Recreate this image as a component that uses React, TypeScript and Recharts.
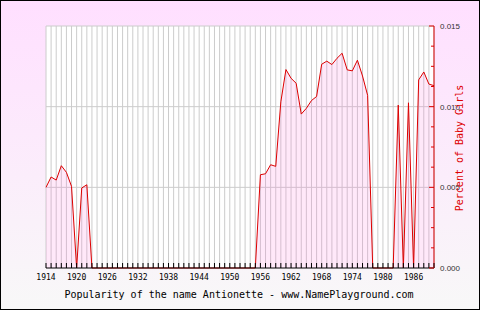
import { AreaChart, Area, XAxis, YAxis, CartesianGrid } from "recharts";

const firstYear = 1914;
const lastYear = 1990;

// share of baby girls per year, starting at 1914
const values = [
  0.005, 0.00564, 0.00545, 0.00634, 0.00593, 0.00506, 0, 0.00496, 0.00516,
  0, 0, 0, 0, 0, 0, 0, 0, 0, 0, 0, 0, 0, 0, 0, 0, 0, 0, 0, 0, 0, 0, 0, 0, 0, 0, 0, 0, 0, 0, 0, 0, 0,
  0.00578, 0.00584, 0.0064, 0.0063, 0.0103, 0.0123, 0.01176, 0.01145, 0.00954, 0.0099, 0.01038,
  0.01063, 0.01263, 0.01282, 0.01261, 0.013, 0.01331, 0.01228, 0.01222, 0.01288, 0.0119, 0.0107,
  0, 0, 0, 0, 0, 0.0101, 0, 0.01024, 0, 0.01166, 0.01215, 0.0114, 0.0113,
];

const labeledYears = [1914, 1920, 1926, 1932, 1938, 1944, 1950, 1956, 1962, 1968, 1974, 1980, 1986];
const yTicks = [
  0, 0.00125, 0.0025, 0.00375, 0.005, 0.00625, 0.0075, 0.00875, 0.01, 0.01125, 0.0125, 0.01375, 0.015,
];
const yLabeled = [0, 0.005, 0.01, 0.015];

const years = values.map((_, i) => firstYear + i);
const data = values.map((v, i) => ({ year: years[i], pct: v }));

const XTick = (props: any) => {
  const { x, y, payload } = props;
  const show = labeledYears.includes(payload.value);
  return (
    <g>
      <line x1={x} x2={x} y1={y - 5} y2={y} stroke="#000" />
      {show && (
        <text
          x={x}
          y={y + 12}
          textAnchor="middle"
          fontFamily="DejaVu Sans Mono"
          fontSize={8}
          fill="#000"
        >
          {payload.value}
        </text>
      )}
    </g>
  );
};

const YTick = (props: any) => {
  const { x, y, payload } = props;
  const major = yLabeled.some((v) => Math.abs(v - payload.value) < 1e-9);
  return (
    <g>
      <line x1={x - (major ? 5 : 3)} x2={x} y1={y} y2={y} stroke="#dd0000" />
      {major && (
        <text
          x={x + 6}
          y={y}
          dy={3}
          fontFamily="Liberation Sans"
          fontSize={8}
          fill="#333"
        >
          {payload.value.toFixed(3)}
        </text>
      )}
    </g>
  );
};

export default function App() {
  return (
    <div
      style={{
        position: "absolute",
        left: 0,
        top: 0,
        width: 480,
        height: 310,
        background: "linear-gradient(#ffdfff, #f8f8f8)",
      }}
    >
      <AreaChart
        width={480}
        height={310}
        data={data}
        margin={{ top: 26, right: 0, bottom: 0, left: 46 }}
      >
        <CartesianGrid
          fill="#fff"
          stroke="#cccccc"
          horizontalValues={[0.005, 0.01, 0.015]}
        />
        <XAxis
          dataKey="year"
          type="number"
          domain={[firstYear, lastYear]}
          ticks={years}
          interval={0}
          height={42}
          tickSize={0}
          tickMargin={0}
          tickLine={false}
          axisLine={{ stroke: "#000" }}
          tick={<XTick />}
        />
        <YAxis
          orientation="right"
          width={46}
          domain={[0, 0.015]}
          ticks={yTicks}
          interval={0}
          tickSize={0}
          tickMargin={0}
          tickLine={false}
          axisLine={{ stroke: "#dd0000" }}
          tick={<YTick />}
        />
        <Area
          type="linear"
          dataKey="pct"
          stroke="#dd0000"
          strokeWidth={1}
          fill="#ff80e0"
          fillOpacity={0.18}
          dot={false}
          activeDot={false}
          isAnimationActive={false}
        />
      </AreaChart>
      <svg
        width={480}
        height={310}
        style={{ position: "absolute", left: 0, top: 0, pointerEvents: "none" }}
      >
        <text
          x={239}
          y={298}
          textAnchor="middle"
          fontFamily="DejaVu Sans Mono"
          fontSize={10}
          fill="#000"
        >
          Popularity of the name Antionette - www.NamePlayground.com
        </text>
        <text
          x={463}
          y={148}
          textAnchor="middle"
          transform="rotate(-90 463 148)"
          fontFamily="DejaVu Sans Mono"
          fontSize={10}
          fill="#dd0000"
        >
          Percent of Baby Girls
        </text>
        <rect x={0.5} y={0.5} width={479} height={309} fill="none" stroke="#000" />
      </svg>
    </div>
  );
}
